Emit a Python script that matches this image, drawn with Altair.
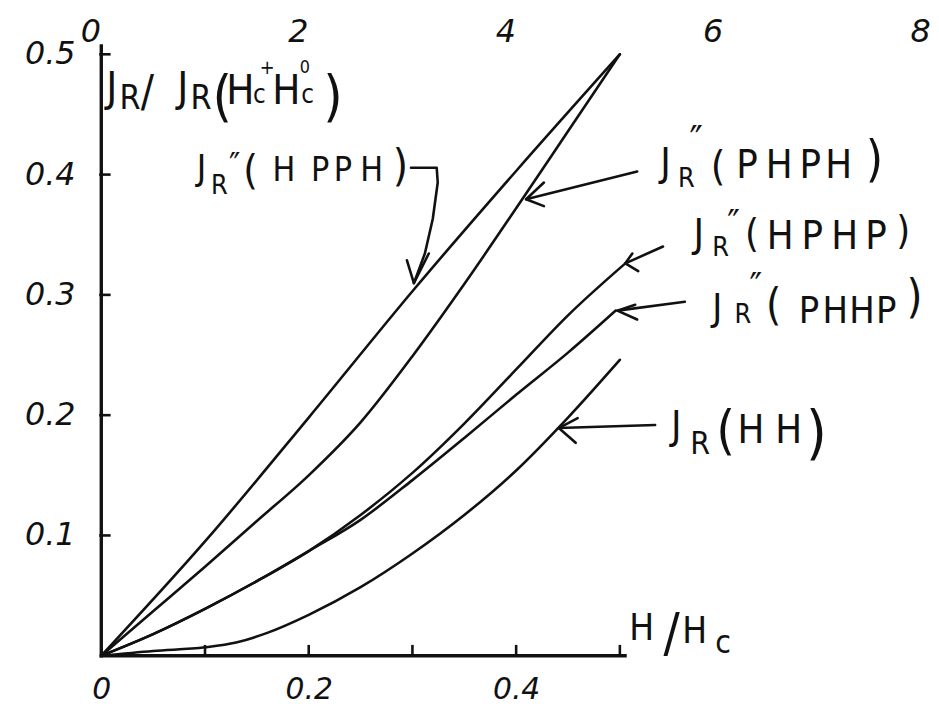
import altair as alt
import pandas as pd

# ---------------- data ----------------
hpph_x = [0, 0.1, 0.2, 0.3, 0.4, 0.5]
hpph_y = [0, 0.095, 0.198, 0.303, 0.403, 0.5]

phph_x = [0, 0.05, 0.1, 0.15, 0.2, 0.25, 0.3, 0.35, 0.4, 0.45, 0.5]
phph_y = [0, 0.037, 0.074, 0.112, 0.150, 0.194, 0.249, 0.309, 0.372, 0.436, 0.5]

hphp_x = [0, 0.05, 0.1, 0.15, 0.2, 0.25, 0.3, 0.35, 0.4, 0.45, 0.505]
hphp_y = [0, 0.018, 0.039, 0.062, 0.087, 0.117, 0.152, 0.193, 0.238, 0.283, 0.326]

phhp_x = [0, 0.05, 0.1, 0.15, 0.2, 0.25, 0.3, 0.35, 0.4, 0.45, 0.496]
phhp_y = [0, 0.018, 0.039, 0.062, 0.087, 0.113, 0.146, 0.181, 0.217, 0.252, 0.287]

hh_x = [0, 0.05, 0.1, 0.13, 0.16, 0.2, 0.25, 0.3, 0.35, 0.4, 0.45, 0.5]
hh_y = [0, 0.004, 0.007, 0.011, 0.019, 0.034, 0.057, 0.085, 0.117, 0.154, 0.198, 0.246]

series_names = ["HPPH", "PHPH", "HPHP", "PHHP", "HH"]

y_tick_values = [0.1, 0.2, 0.3, 0.4, 0.5]
y_tick_labels = ["0.1", "0.2", "0.3", "0.4", "0.5"]
x_label_values = [0, 0.2, 0.4]
x_tick_values = [0.1, 0.2, 0.3, 0.4, 0.5]
top_tick_values = [0, 2, 4, 6, 8]      # upper scale, 1 unit = 0.1 H/Hc
top_per_unit = 0.1

# ---------------- tables ----------------
rows = []
for name, xs_, ys_ in zip(series_names,
                          [hpph_x, phph_x, hphp_x, phhp_x, hh_x],
                          [hpph_y, phph_y, hphp_y, phhp_y, hh_y]):
    for a, b in zip(xs_, ys_):
        rows.append({"series": name, "x": a, "y": b})
curves = pd.DataFrame(rows)

FONT = "DejaVu Sans Condensed, DejaVu Sans"
INK = "#111111"

# annotation text pieces (glyph, x, y in data units, font size)
pieces = [
    # title  J_R / J_R(H_c^+ H_c^0)
    ("J", 0.0100, 0.4615, 42), ("R", 0.0278, 0.4549, 34), ("/", 0.0445, 0.4566, 44),
    ("J", 0.0785, 0.4615, 42), ("R", 0.0962, 0.4549, 34), ("(", 0.1167, 0.4492, 56),
    ("H", 0.1340, 0.4590, 42), ("c", 0.1525, 0.4598, 26), ("+", 0.1600, 0.4835, 20),
    ("H", 0.1785, 0.4590, 42), ("0", 0.1962, 0.4845, 18), ("c", 0.1990, 0.4598, 26),
    (")", 0.2234, 0.4492, 56),
    # J_R''(HPPH)
    ("J", 0.0967, 0.3951, 36), ("R", 0.1139, 0.3836, 27), ("\u2033", 0.1287, 0.3984, 34),
    ("(", 0.1440, 0.3918, 42), ("H", 0.1761, 0.3943, 34), ("P", 0.2110, 0.3943, 34),
    ("P", 0.2330, 0.3943, 34), ("H", 0.2608, 0.3943, 34), (")", 0.2885, 0.3943, 44),
    # J_R''( PHPH )
    ("J", 0.5440, 0.3992, 40), ("R", 0.5641, 0.3893, 27), ("\u2033", 0.5737, 0.4172, 40),
    ("(", 0.5947, 0.3955, 42), ("P", 0.6225, 0.3975, 40), ("H", 0.6536, 0.3975, 40),
    ("P", 0.6837, 0.3975, 40), ("H", 0.7110, 0.3975, 40), (")", 0.7455, 0.3988, 50),
    # J_R''(HPHP)
    ("J", 0.5761, 0.3402, 40), ("R", 0.5971, 0.3320, 27), ("\u2033", 0.6096, 0.3492, 38),
    ("(", 0.6273, 0.3402, 40), ("H", 0.6545, 0.3385, 40), ("P", 0.6856, 0.3385, 40),
    ("H", 0.7167, 0.3385, 40), ("P", 0.7469, 0.3385, 40), (")", 0.7732, 0.3426, 40),
    # J_R''( PHHP)
    ("J", 0.5938, 0.2795, 38), ("R", 0.6187, 0.2770, 27), ("\u2033", 0.6311, 0.2967, 38),
    ("(", 0.6483, 0.2795, 44), ("P", 0.6823, 0.2770, 38), ("H", 0.7077, 0.2770, 38),
    ("H", 0.7335, 0.2770, 38), ("P", 0.7569, 0.2770, 38), (")", 0.7842, 0.2861, 46),
    # J_R(HH)
    ("J", 0.5545, 0.1803, 40), ("R", 0.5775, 0.1680, 32), ("(", 0.6019, 0.1721, 54),
    ("H", 0.6263, 0.1770, 40), ("H", 0.6627, 0.1770, 40), (")", 0.6895, 0.1689, 60),
    # H/H_c
    ("H", 0.5211, 0.0131, 37), ("/", 0.5498, 0.0041, 54), ("H", 0.5722, 0.0107, 37),
    ("c", 0.5995, 0.0025, 32),
]
texts = pd.DataFrame(pieces, columns=["text", "x", "y", "size"])

# arrows: (part, list of points)
arrow_parts = [
    ("hpph_shaft", [(0.2986, 0.4057), (0.3234, 0.4057), (0.3244, 0.3934),
                    (0.3196, 0.3631), (0.3120, 0.3344), (0.3014, 0.3098)]),
    ("hpph_head", [(0.2947, 0.3287), (0.3014, 0.3098), (0.3158, 0.3344)]),
    ("phph_shaft", [(0.5167, 0.4025), (0.4096, 0.3795)]),
    ("phph_head", [(0.4268, 0.3934), (0.4096, 0.3795), (0.4268, 0.3738)]),
    ("hphp_shaft", [(0.5416, 0.3402), (0.5053, 0.3262)]),
    ("hphp_head", [(0.5120, 0.3344), (0.5053, 0.3262), (0.5177, 0.3197)]),
    ("phhp_shaft", [(0.5627, 0.2943), (0.4976, 0.2869)]),
    ("phhp_head", [(0.5148, 0.2918), (0.4976, 0.2869), (0.5167, 0.2795)]),
    ("hh_shaft", [(0.5340, 0.1918), (0.4411, 0.1893)]),
    ("hh_head", [(0.4593, 0.1975), (0.4411, 0.1893), (0.4574, 0.1770)]),
]
arow = []
for part, pts in arrow_parts:
    for i, (a, b) in enumerate(pts):
        arow.append({"part": part, "ord": i, "x": a, "y": b})
arrows = pd.DataFrame(arow)

# hand-drawn axis frame: lines and inward ticks
axis_lines = pd.DataFrame([
    {"x": 0.0, "x2": 0.0, "y": 0.0, "y2": 0.507},
    {"x": 0.0, "x2": 0.505, "y": 0.0, "y2": 0.0},
])
y_ticks_df = pd.DataFrame({"yv": y_tick_values, "label": y_tick_labels,
                           "x": -0.002, "x2": 0.009})
x_ticks_df = pd.DataFrame({"x": x_tick_values, "y": 0.0, "y2": 0.009})

xs = alt.Scale(domain=[0, 0.8], nice=False, zero=False)
ys = alt.Scale(domain=[0, 0.5], nice=False, zero=False)

lab = dict(labelFont="DejaVu Sans", labelFontStyle="italic", labelColor=INK,
           domain=False, ticks=False, grid=False, title=None, labelFlush=False)

NB = "\u00a0"
curve_layer = alt.Chart(curves).mark_line(
    color=INK, strokeWidth=2.6, interpolate="monotone", strokeCap="round"
).encode(
    x=alt.X("x:Q", scale=xs, axis=alt.Axis(
        values=x_label_values, orient="bottom", labelFontSize=30, labelPadding=19,
        labelExpr="datum.value == 0 ? '0" + NB * 3 + "' : format(datum.value, '.1f')",
        **lab)),
    y=alt.Y("y:Q", scale=ys, axis=None),
    detail="series:N",
)

# the frame layer carries the upper (second) x scale labels
frame_layer = alt.Chart(axis_lines).mark_rule(color=INK, strokeWidth=3.4, strokeCap="square").encode(
    x=alt.X("x:Q", axis=alt.Axis(
        orient="top", values=[v * top_per_unit for v in top_tick_values],
        labelExpr="format(datum.value / %g, 'd')" % top_per_unit,
        labelFontSize=32, labelPadding=6, labelOffset=-11, **lab)),
    x2="x2:Q",
    y=alt.Y("y:Q", axis=None), y2="y2:Q",
)

yt_layer = alt.Chart(y_ticks_df).mark_rule(color=INK, strokeWidth=2.6).encode(
    x=alt.X("x:Q", axis=None), x2="x2:Q",
    y=alt.Y("yv:Q", axis=None),
)

# y tick labels (left of the y axis line)
ylab_layer = alt.Chart(y_ticks_df).mark_text(
    align="right", baseline="middle", dx=-26, font="DejaVu Sans",
    fontStyle="italic", fontSize=32, color=INK
).encode(
    x=alt.value(0),
    y=alt.Y("yv:Q", axis=None),
    text="label:N",
)

xt_layer = alt.Chart(x_ticks_df).mark_rule(color=INK, strokeWidth=2.6).encode(
    x=alt.X("x:Q", axis=None),
    y=alt.Y("y:Q", axis=None), y2="y2:Q",
)

arrow_layer = alt.Chart(arrows).mark_line(
    color=INK, strokeWidth=2.6, strokeCap="round", strokeJoin="round"
).encode(
    x=alt.X("x:Q", axis=None),
    y=alt.Y("y:Q", axis=None),
    detail="part:N", order="ord:Q",
)

text_layer = alt.Chart(texts).mark_text(
    align="center", baseline="alphabetic", font=FONT, color=INK
).encode(
    x=alt.X("x:Q", axis=None),
    y=alt.Y("y:Q", axis=None),
    text="text:N",
    size=alt.Size("size:Q", scale=None),
)

chart = alt.layer(
    curve_layer, frame_layer, yt_layer, ylab_layer, xt_layer, arrow_layer, text_layer
).properties(
    width=836, height=606,
    padding={"left": 94, "top": 44, "right": 0, "bottom": 50},
    autosize=alt.AutoSizeParams(type="none"),
    background="white",
).configure_view(strokeWidth=0)

chart.save("out.html", embed_options={"renderer": "svg", "actions": False})
